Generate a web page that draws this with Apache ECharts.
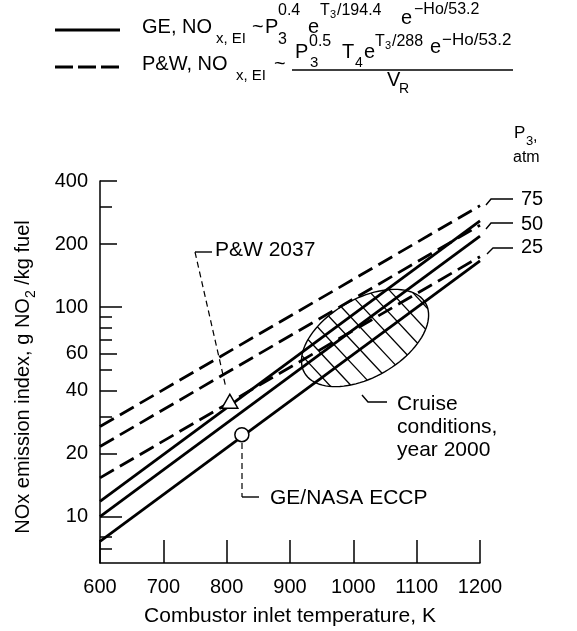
<!DOCTYPE html>
<html>
<head>
<meta charset="utf-8">
<script src="https://cdn.jsdelivr.net/npm/echarts@6/dist/echarts.min.js"></script>
<style>
html,body{margin:0;padding:0;background:#fff;}
#chart{width:577px;height:631px;}
</style>
</head>
<body>
<div id="chart"></div>
<script>
// ---------- data ----------
const temps = [600, 1200];                 // combustor inlet temperature, K
const geP25 = [7.6, 166];                  // GE correlation, P3 = 25 atm
const geP50 = [10.0, 218];                 // GE correlation, P3 = 50 atm
const geP75 = [11.8, 258];                 // GE correlation, P3 = 75 atm
const pwP25 = [15.3, 174];                 // P&W correlation, P3 = 25 atm
const pwP50 = [21.6, 246];                 // P&W correlation, P3 = 50 atm
const pwP75 = [26.9, 305];                 // P&W correlation, P3 = 75 atm
const pw2037Point = [805, 35.5];           // P&W 2037 test point
const geEccpPoint = [824, 24.6];           // GE/NASA ECCP test point
const cruiseMajorAxis = [[923, 48.5], [1114, 104.5]]; // ellipse major-axis ends
const cruiseMinorRatio = 0.56;
const xTicks = [600, 700, 800, 900, 1000, 1100, 1200];
const yLabelTicks = [10, 20, 40, 60, 100, 200, 400];
const yMinorTicks = [7, 8, 30, 50, 70, 80, 90, 300];
const yDecadeTicks = [10, 100];
const yRange = [6, 400];

// ---------- helpers ----------
const FONT = '"Liberation Sans", Arial, Helvetica, sans-serif';
const lg = Math.log10;
const toPts = vals => temps.map((t, i) => [t, lg(vals[i])]);

function txt(text, x, baseline, size, extra) {
  return Object.assign({
    type: 'text', x: x, y: baseline - 0.36 * size, silent: true,
    style: { text: text, fontSize: size, fontFamily: FONT, fill: '#000',
             align: 'left', verticalAlign: 'middle' }
  }, extra || {});
}
function seg(pts, dash, w) {
  return { type: 'polyline', silent: true, shape: { points: pts },
           style: { stroke: '#000', fill: null, lineWidth: w || 1.4, lineDash: dash || null } };
}

const solid = { color: '#000', width: 2.8, type: 'solid' };
const dashed = { color: '#000', width: 2.8, type: [16, 7] };

function lineSeries(name, vals, ls) {
  return { name: name, type: 'line', data: toPts(vals), symbol: 'none',
           lineStyle: ls, silent: true, z: 3 };
}

// ---------- graphics (legend, annotations) ----------
const graphics = [
  // legend line 1 (GE)
  seg([[55, 30], [120, 30]], null, 3),
  txt('GE, NO', 142, 35, 20),
  txt('x, EI', 216, 44, 15),
  txt('~', 252, 35, 20),
  txt('P', 265, 35, 20),
  txt('0.4', 278, 16, 16),
  txt('3', 278, 45, 16),
  txt('e', 308, 35, 20),
  txt('T', 320, 16, 16),
  txt('3', 330, 19, 11),
  txt('/194.4', 337, 16, 16),
  txt('e', 401, 26, 20),
  txt('\u2212Ho/53.2', 414, 15, 16),
  // legend line 2 (P&W)
  seg([[55, 67], [120, 67]], [18, 5], 3),
  txt('P&W, NO', 142, 72, 20),
  txt('x, EI', 236, 81, 15),
  txt('~', 274, 72, 20),
  txt('P', 295, 60, 20),
  txt('0.5', 309, 47, 16),
  txt('3', 310, 68, 15),
  txt('T', 342, 60, 20),
  txt('4', 355, 68, 14),
  txt('e', 364, 60, 20),
  txt('T', 375, 47, 16),
  txt('3', 385, 50, 11),
  txt('/288', 392, 47, 16),
  txt('e', 430, 55, 20),
  txt('\u2212Ho/53.2', 442, 46, 17),
  seg([[292, 70], [513, 70]], null, 1.3),
  txt('V', 387, 88, 20),
  txt('R', 399, 94, 14),

  // P3, atm heading
  txt('P', 514, 139, 17),
  txt('3', 526, 146, 13),
  txt(',', 533, 142, 16),
  txt('atm', 513, 163, 16),

  // pressure labels and leaders
  txt('75', 521, 207, 20),
  txt('50', 521, 232, 20),
  txt('25', 521, 255, 20),
  seg([[486, 205], [491, 199], [513, 199]]),
  seg([[486, 229], [491, 223], [513, 223]]),
  seg([[487, 254], [493, 248], [513, 248]]),

  // P&W 2037
  txt('P&W 2037', 215, 258, 21),
  seg([[195, 252], [212, 252]]),
  seg([[195, 252], [226, 388]], [6, 4], 1.2),

  // Cruise conditions
  txt('Cruise', 397, 411.5, 21),
  txt('conditions,', 397, 434.5, 21),
  txt('year 2000', 397, 457.5, 21),
  seg([[362, 395], [368, 402], [387, 402]]),

  // GE/NASA ECCP
  txt('GE/NASA ECCP', 270, 505.5, 21),
  seg([[242, 443], [242, 497]], [6, 4], 1.2),
  seg([[242, 497], [259, 497]])
];

// ---------- ellipse (cruise conditions) ----------
function renderEllipse(params, api) {
  const p1 = api.coord([api.value(0), api.value(1)]);
  const p2 = api.coord([api.value(2), api.value(3)]);
  const cx = (p1[0] + p2[0]) / 2, cy = (p1[1] + p2[1]) / 2;
  const dx = p2[0] - p1[0], dy = p2[1] - p1[1];
  const len = Math.hypot(dx, dy);
  const a = len / 2, b = a * cruiseMinorRatio;
  const u = [dx / len, dy / len], v = [-u[1], u[0]];
  const pts = [];
  for (let k = 0; k <= 96; k++) {
    const t = 2 * Math.PI * k / 96;
    pts.push([cx + a * Math.cos(t) * u[0] + b * Math.sin(t) * v[0],
              cy + a * Math.cos(t) * u[1] + b * Math.sin(t) * v[1]]);
  }
  const children = [{ type: 'polygon', shape: { points: pts },
    style: { fill: 'rgba(255,255,255,0)', stroke: '#000', lineWidth: 1.4 } }];
  const ang = 47 * Math.PI / 180;
  const h = [Math.cos(ang), Math.sin(ang)], n = [-Math.sin(ang), Math.cos(ang)];
  const hu = h[0] * u[0] + h[1] * u[1], hv = h[0] * v[0] + h[1] * v[1];
  const nu = n[0] * u[0] + n[1] * u[1], nv = n[0] * v[0] + n[1] * v[1];
  const step = 15.5;
  for (let d = -a + 4; d <= a; d += step) {
    const A = (hu / a) ** 2 + (hv / b) ** 2;
    const B = 2 * (d * nu * hu / (a * a) + d * nv * hv / (b * b));
    const C = (d * nu / a) ** 2 + (d * nv / b) ** 2 - 1;
    const disc = B * B - 4 * A * C;
    if (disc <= 0) continue;
    const t1 = (-B - Math.sqrt(disc)) / (2 * A), t2 = (-B + Math.sqrt(disc)) / (2 * A);
    const bx = cx + d * n[0], by = cy + d * n[1];
    children.push({ type: 'line',
      shape: { x1: bx + t1 * h[0], y1: by + t1 * h[1], x2: bx + t2 * h[0], y2: by + t2 * h[1] },
      style: { stroke: '#000', lineWidth: 1.3 } });
  }
  return { type: 'group', children: children };
}

// ---------- chart ----------
const yAxisBase = {
  type: 'value', min: lg(yRange[0]), max: lg(yRange[1]), position: 'left',
  splitLine: { show: false }
};
const tickStyle = { color: '#000', width: 1.5 };

const chart = echarts.init(document.getElementById('chart'), null, { renderer: 'canvas' });
chart.setOption({
  animation: false,
  backgroundColor: '#fff',
  grid: { left: 100, right: 97, top: 181, bottom: 68, containLabel: false, outerBoundsMode: 'none' },
  xAxis: {
    type: 'value', min: 600, max: 1200, interval: 100,
    name: 'Combustor inlet temperature, K', nameLocation: 'middle', nameGap: 43,
    nameTextStyle: { fontSize: 21, fontFamily: FONT, color: '#000' },
    axisLine: { show: true, lineStyle: { color: '#000', width: 1.5 } },
    axisTick: { show: true, inside: true, length: 23, customValues: xTicks, lineStyle: tickStyle },
    axisLabel: { customValues: xTicks, formatter: v => String(Math.round(v)),
                 fontSize: 20, fontFamily: FONT, color: '#000', margin: 14 },
    splitLine: { show: false }
  },
  yAxis: [
    Object.assign({}, yAxisBase, {
      name: '{a|NOx emission index, g NO}{s|2}{a| /kg fuel}',
      nameLocation: 'middle', nameGap: 62,
      nameTextStyle: { fontFamily: FONT, color: '#000', padding: [0, 10, 0, 0],
        rich: { a: { fontSize: 20, fontFamily: FONT, color: '#000', lineHeight: 30 },
                s: { fontSize: 14, fontFamily: FONT, color: '#000', lineHeight: 14, verticalAlign: 'bottom' } } },
      axisLine: { show: true, lineStyle: { color: '#000', width: 1.5 } },
      axisTick: { show: true, inside: true, length: 17, customValues: yLabelTicks.map(lg), lineStyle: tickStyle },
      axisLabel: { customValues: yLabelTicks.map(lg), formatter: v => String(Math.round(Math.pow(10, v))),
                   fontSize: 20, fontFamily: FONT, color: '#000', margin: 12 }
    }),
    Object.assign({}, yAxisBase, {
      axisLine: { show: false },
      axisTick: { show: true, inside: true, length: 12, customValues: yMinorTicks.map(lg), lineStyle: tickStyle },
      axisLabel: { show: false }
    }),
    Object.assign({}, yAxisBase, {
      axisLine: { show: false },
      axisTick: { show: true, inside: true, length: 22, customValues: yDecadeTicks.map(lg), lineStyle: tickStyle },
      axisLabel: { show: false }
    })
  ],
  series: [
    { name: 'Cruise conditions, year 2000', type: 'custom', renderItem: renderEllipse, silent: true, z: 2,
      data: [[cruiseMajorAxis[0][0], lg(cruiseMajorAxis[0][1]), cruiseMajorAxis[1][0], lg(cruiseMajorAxis[1][1])]],
      encode: { x: [0, 2], y: [1, 3] } },
    lineSeries('GE 25 atm', geP25, solid),
    lineSeries('GE 50 atm', geP50, solid),
    lineSeries('GE 75 atm', geP75, solid),
    lineSeries('P&W 25 atm', pwP25, dashed),
    lineSeries('P&W 50 atm', pwP50, dashed),
    lineSeries('P&W 75 atm', pwP75, dashed),
    { name: 'P&W 2037', type: 'scatter', data: [[pw2037Point[0], lg(pw2037Point[1])]],
      symbol: 'triangle', symbolSize: [16, 14], z: 5, silent: true,
      itemStyle: { color: '#fff', opacity: 1, borderColor: '#000', borderWidth: 1.5 } },
    { name: 'GE/NASA ECCP', type: 'scatter', data: [[geEccpPoint[0], lg(geEccpPoint[1])]],
      symbol: 'circle', symbolSize: 14, z: 5, silent: true,
      itemStyle: { color: '#fff', opacity: 1, borderColor: '#000', borderWidth: 1.5 } }
  ],
  graphic: graphics
});
</script>
</body>
</html>
